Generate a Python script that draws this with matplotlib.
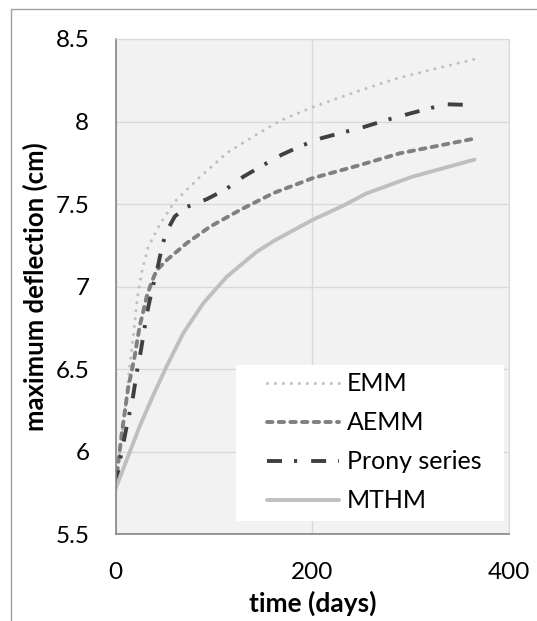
import matplotlib.pyplot as plt
from matplotlib.patches import Rectangle
from matplotlib.lines import Line2D

# data
t_emm = [0, 4.4, 9.5, 14.5, 18, 21.3, 26, 33, 45, 60, 86, 113, 140, 167, 200, 242, 284, 325, 365]
y_emm = [5.80, 6.01, 6.25, 6.54, 6.70, 6.90, 7.08, 7.24, 7.38, 7.515, 7.667, 7.81, 7.91, 8.005, 8.087, 8.175, 8.258, 8.32, 8.378]

t_aemm = [0, 6.1, 12.8, 16.3, 19.6, 22, 24.7, 28, 31.5, 36.6, 41.7, 52, 72, 96, 126.5, 160, 200, 248.5, 289, 365]
y_aemm = [5.80, 6.11, 6.395, 6.49, 6.59, 6.68, 6.77, 6.85, 6.94, 7.03, 7.10, 7.162, 7.263, 7.364, 7.465, 7.566, 7.657, 7.737, 7.808, 7.897]

t_prony = [0, 4.4, 11, 17.6, 21.4, 25.7, 29, 33.2, 37.6, 41.7, 47.8, 53.5, 60, 71, 92.5, 112, 130, 149, 169, 189, 209.5, 231.5, 248.5, 275.6, 300, 335, 365]
y_prony = [5.80, 5.95, 6.15, 6.335, 6.48, 6.617, 6.74, 6.88, 7.0, 7.09, 7.263, 7.354, 7.425, 7.48, 7.53, 7.59, 7.667, 7.733, 7.80, 7.854, 7.90, 7.935, 7.96, 8.01, 8.05, 8.105, 8.10]

t_mthm = [0, 24.7, 38.3, 51.9, 68.8, 89, 113, 143.4, 161.6, 200, 231, 255, 301, 365]
y_mthm = [5.78, 6.16, 6.345, 6.52, 6.72, 6.90, 7.061, 7.212, 7.28, 7.404, 7.49, 7.565, 7.665, 7.77]

labels = ['EMM', 'AEMM', 'Prony series', 'MTHM']

plt.rcParams['font.family'] = ['Lato', 'DejaVu Sans']
plt.rcParams['font.size'] = 17.5

fig = plt.figure(figsize=(5.37, 6.21), dpi=100)
ax = fig.add_axes([0.2155, 0.1393, 0.7324, 0.7979])
ax.set_facecolor('#f2f2f2')

# outer chart border (only left and top visible)
fig.add_artist(Line2D([10.5 / 537, 10.5 / 537, 1.0], [0.0, 1 - 8.7 / 621, 1 - 8.7 / 621],
                      transform=fig.transFigure, color='#a0a0a0', lw=1.0))

lw = 2.8
l1, = ax.plot(t_emm, y_emm, color='#bfbfbf', lw=2.2, linestyle=(0, (0.01, 2.6)),
              dash_capstyle='round', zorder=2)
l2, = ax.plot(t_aemm, y_aemm, color='#808080', lw=lw, linestyle=(0, (1.4, 1.6)),
              dash_capstyle='round', zorder=2)
l3, = ax.plot(t_prony, y_prony, color='#404040', lw=lw, linestyle=(0, (3.85, 3.1, 0.8, 3.6)),
              dash_capstyle='butt', zorder=2)
l4, = ax.plot(t_mthm, y_mthm, color='#bfbfbf', lw=lw, solid_capstyle='round',
              solid_joinstyle='round', zorder=2)

ax.set_xlim(0, 400)
ax.set_ylim(5.5, 8.5)
ax.set_xticks([0, 200, 400])
ax.set_yticks([5.5, 6, 6.5, 7, 7.5, 8, 8.5])
ax.set_yticklabels(['5.5', '6', '6.5', '7', '7.5', '8', '8.5'])
ax.tick_params(axis='both', length=0, colors='black')
ax.tick_params(axis='y', pad=19)
ax.tick_params(axis='x', pad=20)

ax.grid(True, color='#d9d9d9', lw=1.0)
ax.set_axisbelow(True)
for s in ['top', 'right']:
    ax.spines[s].set_color('#d9d9d9')
    ax.spines[s].set_linewidth(0.8)
for s in ['left', 'bottom']:
    ax.spines[s].set_color('#868686')
    ax.spines[s].set_linewidth(1.2)

ax.set_xlabel('time (days)', fontweight='bold', fontsize=19, labelpad=5)
ax.set_ylabel('maximum deflection (cm)', fontweight='bold', fontsize=18.5, labelpad=5)

# white legend box
ax.add_patch(Rectangle((0.306, 0.027), 0.681, 0.315, transform=ax.transAxes,
                       facecolor='white', edgecolor='none', zorder=4))
leg = ax.legend([l1, l2, l3, l4], labels, loc='upper left', bbox_to_anchor=(0.3855, 0.327),
                frameon=False, borderpad=0, borderaxespad=0, handlelength=2.88,
                handletextpad=0.3, labelspacing=0.64, fontsize=18)
leg.set_zorder(5)

fig.savefig('out.png', dpi=100)
